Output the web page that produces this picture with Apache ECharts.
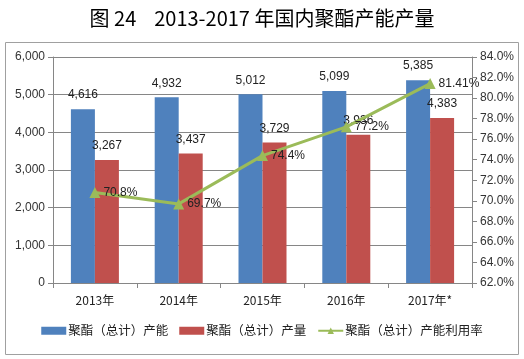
<!DOCTYPE html>
<html><head><meta charset="utf-8">
<script src="https://cdn.jsdelivr.net/npm/echarts@6/dist/echarts.min.js"></script>
<style>html,body{margin:0;padding:0;background:#fff}#c{width:524px;height:359px}</style>
</head><body><div id="c"></div>
<script>
const categories = ['2013年','2014年','2015年','2016年','2017年*'];
const capacity = [4616, 4932, 5012, 5099, 5385];
const output = [3267, 3437, 3729, 3936, 4383];
const utilization = [70.8, 69.7, 74.4, 77.2, 81.41];
const utilLabels = ['70.8%','69.7%','74.4%','77.2%','81.41%'];
const names = ['聚酯（总计）产能','聚酯（总计）产量','聚酯（总计）产能利用率'];

const font = '"Liberation Sans", "Noto Sans CJK SC", sans-serif';
const chart = echarts.init(document.getElementById('c'), null, {renderer:'canvas'});
chart.setOption({
  animation:false,
  textStyle:{fontFamily:font},
  title:{text:'图 24    2013-2017 年国内聚酯产能产量', left:'center', top:3,
    textStyle:{fontSize:20, fontWeight:'normal', color:'#000', fontFamily:'"Noto Sans CJK SC", sans-serif'}},
  graphic:[{type:'rect', shape:{x:5.5,y:42.5,width:513,height:312}, style:{fill:'none', stroke:'#a0a0a0', lineWidth:1}, silent:true}],
  grid:{left:53, right:52, top:57, bottom:76},
  legend:{bottom:17, left:'center', itemGap:11, itemWidth:25, itemHeight:8,
    textStyle:{fontSize:12.5, color:'#222', padding:[0,0,0,-3], fontFamily:'"Noto Sans CJK SC", sans-serif'},
    data:[{name:names[0], icon:'rect'},{name:names[1], icon:'rect'},{name:names[2]}]},
  xAxis:{type:'category', data:categories,
    axisLine:{lineStyle:{color:'#868686'}},
    axisTick:{show:true, length:5, lineStyle:{color:'#868686'}},
    axisLabel:{fontSize:12, color:'#222', margin:11, fontFamily:'"Noto Sans CJK SC", sans-serif'}},
  yAxis:[
    {type:'value', min:0, max:6000, interval:1000,
     axisLine:{show:true, lineStyle:{color:'#868686'}},
     axisTick:{show:true, length:5, lineStyle:{color:'#868686'}},
     splitLine:{lineStyle:{color:'#868686'}},
     axisLabel:{fontSize:12, color:'#333', margin:8, formatter:v=>v.toLocaleString('en-US')}},
    {type:'value', min:62, max:84, interval:2, position:'right',
     axisLine:{show:true, lineStyle:{color:'#868686'}},
     axisTick:{show:true, length:5, lineStyle:{color:'#868686'}},
     splitLine:{show:false},
     axisLabel:{fontSize:12, color:'#333', margin:8, formatter:v=>v.toFixed(1)+'%'}}
  ],
  series:[
    {name:names[0], type:'bar', data:capacity, barWidth:24, barGap:'0%', itemStyle:{color:'#4F81BD'},
     label:{show:true, position:'top', distance:8, fontSize:12, color:'#222', formatter:p=>p.value.toLocaleString('en-US')}},
    {name:names[1], type:'bar', data:output, barWidth:24, itemStyle:{color:'#C0504D'},
     label:{show:true, position:'top', distance:8, fontSize:12, color:'#222', formatter:p=>p.value.toLocaleString('en-US')}},
    {name:names[2], type:'line', yAxisIndex:1, data:utilization, symbol:'triangle', symbolSize:11,
     lineStyle:{color:'#9BBB59', width:3}, itemStyle:{color:'#9BBB59'},
     label:{show:true, position:'right', distance:3, fontSize:12, color:'#222', formatter:p=>utilLabels[p.dataIndex]}, z:5}
  ]
});
</script></body></html>
